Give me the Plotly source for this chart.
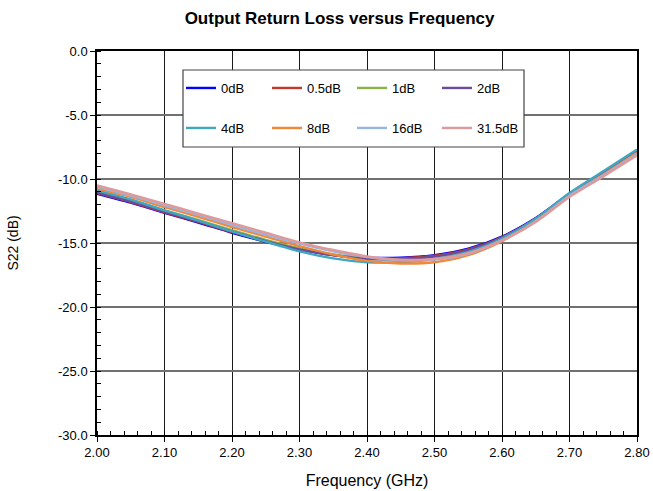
import plotly.graph_objects as go

freq = [2.00, 2.05, 2.10, 2.15, 2.20, 2.25, 2.30, 2.35, 2.40, 2.45, 2.50, 2.55, 2.60, 2.65, 2.70, 2.75, 2.80]

s_0dB = [-11.15, -11.85, -12.65, -13.4, -14.2, -14.9, -15.5, -15.95, -16.15, -16.15, -15.95, -15.45, -14.5, -13.05, -11.15, -9.5, -7.85]
s_0p5dB = [-11.1, -11.8, -12.6, -13.35, -14.15, -14.85, -15.5, -15.95, -16.2, -16.2, -16.0, -15.5, -14.55, -13.1, -11.2, -9.55, -7.9]
s_1dB = [-10.95, -11.65, -12.45, -13.2, -14.0, -14.75, -15.4, -15.9, -16.2, -16.3, -16.1, -15.6, -14.6, -13.1, -11.2, -9.55, -7.9]
s_2dB = [-11.05, -11.75, -12.55, -13.3, -14.1, -14.85, -15.5, -15.95, -16.25, -16.25, -16.05, -15.55, -14.6, -13.1, -11.2, -9.5, -7.85]
s_4dB = [-10.9, -11.6, -12.45, -13.25, -14.1, -14.9, -15.65, -16.2, -16.5, -16.5, -16.25, -15.7, -14.65, -13.1, -11.1, -9.4, -7.7]
s_8dB = [-10.75, -11.4, -12.2, -12.95, -13.75, -14.5, -15.25, -15.9, -16.4, -16.6, -16.5, -15.95, -14.85, -13.3, -11.3, -9.65, -7.95]
s_16dB = [-10.6, -11.3, -12.05, -12.8, -13.6, -14.35, -15.05, -15.65, -16.1, -16.35, -16.3, -15.85, -14.8, -13.3, -11.3, -9.7, -8.05]
s_31p5dB = [-10.5, -11.2, -11.95, -12.7, -13.45, -14.2, -14.95, -15.55, -16.05, -16.3, -16.25, -15.8, -14.8, -13.35, -11.4, -9.8, -8.15]

names = ["0dB", "0.5dB", "1dB", "2dB", "4dB", "8dB", "16dB", "31.5dB"]
series = [s_0dB, s_0p5dB, s_1dB, s_2dB, s_4dB, s_8dB, s_16dB, s_31p5dB]
colors = ["#0000FF", "#C0392B", "#8DB04A", "#6A4C9C", "#3FA7C0", "#F0883A", "#98B4E0", "#E0989A"]

x_ticks = [2.00, 2.10, 2.20, 2.30, 2.40, 2.50, 2.60, 2.70, 2.80]
x_ticklabels = ["2.00", "2.10", "2.20", "2.30", "2.40", "2.50", "2.60", "2.70", "2.80"]
y_ticks = [0, -5, -10, -15, -20, -25, -30]
y_ticklabels = ["0.0", "-5.0", "-10.0", "-15.0", "-20.0", "-25.0", "-30.0"]

FONT = "Liberation Sans, Arial, sans-serif"

# plot area in pixels
L, R, T, B = 97, 637, 51, 435
W, H = R - L, B - T


def px(xp):
    return (xp - L) / W


def py(yp):
    return 1 - (yp - T) / H


fig = go.Figure()
legend_layout = {}
col_x = [181, 267, 352, 437]
row_y = [88, 128]
for i in range(len(names)):
    key = "legend" if i == 0 else f"legend{i + 1}"
    fig.add_trace(go.Scatter(
        x=freq, y=series[i], mode="lines", name=names[i],
        line=dict(color=colors[i], width=2.4, shape="spline", smoothing=0.8),
        legend=key,
    ))
    legend_layout[key] = dict(
        x=px(col_x[i % 4]), y=py(row_y[i // 4]), xanchor="left", yanchor="middle",
        bgcolor="rgba(0,0,0,0)", borderwidth=0,
        font=dict(size=13, family=FONT, color="#000"), itemwidth=30,
    )

fig.update_layout(
    width=653, height=491,
    margin=dict(l=L, r=653 - R, t=T, b=491 - B, autoexpand=False),
    paper_bgcolor="white", plot_bgcolor="white",
    font=dict(family=FONT, size=13, color="#000"),
    title=dict(text="<b>Output Return Loss versus Frequency</b>", x=0.52, xanchor="center",
               y=1 - 18 / 491, yanchor="middle", font=dict(size=17, family=FONT)),
    showlegend=True,
    shapes=[dict(type="rect", xref="paper", yref="paper",
                 x0=px(183), x1=px(524), y0=py(147), y1=py(70),
                 line=dict(color="#444", width=1.2), fillcolor="white", layer="above")],
    **legend_layout,
)

fig.update_xaxes(
    range=[2.0, 2.8], tickvals=x_ticks, ticktext=x_ticklabels,
    showgrid=True, gridcolor="#1a1a1a", gridwidth=1.2,
    showline=True, linecolor="#000", linewidth=1.5, mirror=True,
    ticks="outside", ticklen=5, tickcolor="#000",
    minor=dict(dtick=0.02, ticks="inside", ticklen=4, tickcolor="#000", showgrid=False),
    title=dict(text="Frequency (GHz)", font=dict(size=16), standoff=15),
    tickfont=dict(size=13), zeroline=False, automargin=False,
)
fig.update_yaxes(
    range=[-30, 0], tickvals=y_ticks, ticktext=y_ticklabels,
    showgrid=True, gridcolor="#707070", gridwidth=1.5,
    showline=True, linecolor="#000", linewidth=1.5, mirror=True,
    ticks="outside", ticklen=5, tickcolor="#000",
    minor=dict(dtick=1, ticks="inside", ticklen=4, tickcolor="#000", showgrid=False),
    title=dict(text="S22 (dB)", font=dict(size=14), standoff=36),
    tickfont=dict(size=13), zeroline=False, automargin=False,
)

fig.write_html("out.html", config={"displayModeBar": False},
               post_script="document.body.style.margin='0px';")
